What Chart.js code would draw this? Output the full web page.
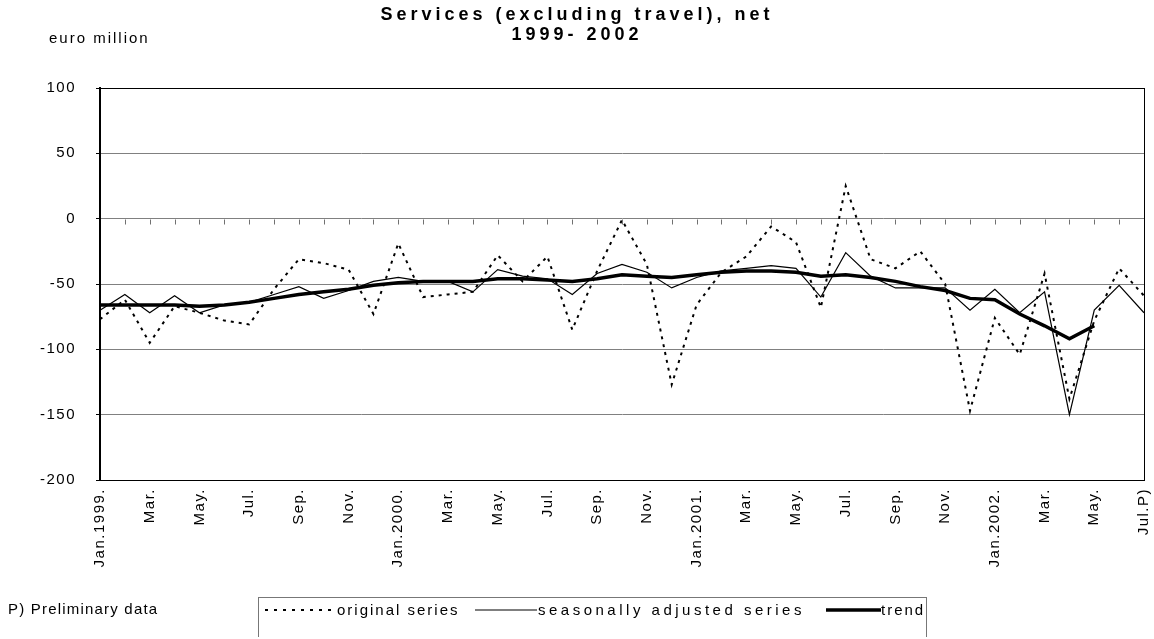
<!DOCTYPE html>
<html>
<head>
<meta charset="utf-8">
<title>Services (excluding travel), net</title>
<script src="https://cdn.jsdelivr.net/npm/chart.js@4.4.1/dist/chart.umd.min.js"></script>
<style>
    body { margin: 0; background: #fff; font-family: 'Liberation Sans', Arial, sans-serif; }
    #wrap { position: relative; width: 1154px; height: 639px; }
    #myLineChart { position: absolute; left: 0; top: 0; }
    .title { position: absolute; left: 0; width: 1154px; text-align: center; font-weight: bold; font-size: 18px; letter-spacing: 4px; color: #000; }
    .unit { position: absolute; left: 49px; top: 29px; font-size: 15px; letter-spacing: 2px; color: #000; }
    .note { position: absolute; left: 8px; top: 600px; font-size: 15px; letter-spacing: 1.2px; color: #000; }
    .legend { position: absolute; left: 258px; top: 597px; width: 669px; height: 40px; box-sizing: border-box; border: 1px solid #777; border-bottom: none; font-size: 15px; letter-spacing: 2px; white-space: nowrap; }
    .legend span, .legend svg { position: absolute; top: 3px; }
</style>
</head>
<body>
<div id="wrap">
    <canvas id="myLineChart" width="1154" height="639"></canvas>
    <div class="title" style="top:4px">Services (excluding travel), net</div>
    <div class="title" style="top:24px">1999- 2002</div>
    <div class="unit">euro million</div>
    <div class="note">P) Preliminary data</div>
    <div class="legend">
        <svg style="left:6px;top:9px" width="68" height="6"><line x1="0" y1="3" x2="68" y2="3" stroke="#000" stroke-width="2" stroke-dasharray="3,6"/></svg>
        <span style="left:78px">original series</span>
        <svg style="left:216px;top:9px" width="62" height="6"><line x1="0" y1="3" x2="62" y2="3" stroke="#000" stroke-width="1.2"/></svg>
        <span style="left:279px;letter-spacing:3.5px">seasonally adjusted series</span>
        <svg style="left:567px;top:9px" width="55" height="6"><line x1="0" y1="3" x2="55" y2="3" stroke="#000" stroke-width="3.5"/></svg>
        <span style="left:622px">trend</span>
    </div>
</div>

<script>
// Jan 1999 .. Jul 2002 (P = preliminary)
const Months = ['Jan.1999.', 'Feb.', 'Mar.', 'Apr.', 'May.', 'Jun.', 'Jul.', 'Aug.', 'Sep.', 'Oct.', 'Nov.', 'Dec.',
    'Jan.2000.', 'Feb.', 'Mar.', 'Apr.', 'May.', 'Jun.', 'Jul.', 'Aug.', 'Sep.', 'Oct.', 'Nov.', 'Dec.',
    'Jan.2001.', 'Feb.', 'Mar.', 'Apr.', 'May.', 'Jun.', 'Jul.', 'Aug.', 'Sep.', 'Oct.', 'Nov.', 'Dec.',
    'Jan.2002.', 'Feb.', 'Mar.', 'Apr.', 'May.', 'Jun.', 'Jul.P)'];

const Original_Series = [-77, -62, -95, -67, -72, -78, -81, -54, -31, -34, -39, -73,
    -19, -60, -58, -56, -28, -48, -29, -85, -40, -1, -35, -127,
    -66, -41, -29, -6, -18, -68, 25, -31, -38, -25, -50, -147,
    -76, -104, -42, -138, -78, -38, -59];

const Seasonally_Adjusted = [-70, -58, -72, -59, -72, -66, -64, -58, -52, -61, -55, -48,
    -45, -48, -48, -56, -39, -44, -46, -58, -42, -35, -41, -53,
    -45, -40, -38, -36, -38, -60, -26, -44, -53, -53, -53, -70,
    -54, -72, -56, -150, -70, -51, -72];

// trend stops at May 2002
const Trend = [-66, -66, -66, -66, -67, -66, -64, -61, -58, -56, -54, -51,
    -49, -48, -48, -48, -46, -46, -47, -48, -46, -43, -44, -45,
    -43, -41, -40, -40, -41, -44, -43, -45, -48, -52, -55, -61,
    -62, -73, -82, -92, -82, null, null];

const Y_Ticks = [-200, -150, -100, -50, 0, 50, 100];

// marco del area del grafico y eje en cero con sus marcas
const framePlugin = {
    id: 'framePlugin',
    beforeDraw(chart) {
        // texto de los ejes un poco espaciado, como en el original
        chart.ctx.letterSpacing = '1.5px';
    },
    beforeDatasetsDraw(chart) {
        chart.ctx.letterSpacing = '0px';
    },
    afterDatasetsDraw(chart) {
        const { ctx, chartArea, scales } = chart;
        const y0 = Math.round(scales.y.getPixelForValue(0)) + 0.5;
        ctx.save();
        ctx.strokeStyle = '#707070';
        ctx.lineWidth = 1;
        ctx.beginPath();
        for (let i = 1; i < Months.length; i++) {
            const x = Math.round(scales.x.getPixelForValue(i)) + 0.5;
            ctx.moveTo(x, y0);
            ctx.lineTo(x, y0 + 5);
        }
        ctx.stroke();
        ctx.strokeStyle = '#000';
        ctx.strokeRect(Math.round(chartArea.left) + 0.5, Math.round(chartArea.top) + 0.5,
            Math.round(chartArea.width), Math.round(chartArea.height));
        ctx.lineWidth = 2;
        ctx.beginPath();
        ctx.moveTo(Math.round(chartArea.left), chartArea.top);
        ctx.lineTo(Math.round(chartArea.left), chartArea.bottom + 1);
        ctx.stroke();
        ctx.restore();
    }
};

function createLineChart() {
    const ctx = document.getElementById('myLineChart').getContext('2d');

    new Chart(ctx, {
        type: 'line',
        data: {
            labels: Months,
            datasets: [{
                label: 'original series',
                data: Original_Series,
                borderColor: '#000',
                borderWidth: 2,
                borderDash: [3, 5],
                pointRadius: 0,
                tension: 0
            }, {
                label: 'seasonally adjusted series',
                data: Seasonally_Adjusted,
                borderColor: '#000',
                borderWidth: 1.2,
                pointRadius: 0,
                tension: 0
            }, {
                label: 'trend',
                data: Trend,
                borderColor: '#000',
                borderWidth: 3.5,
                pointRadius: 0,
                tension: 0,
                spanGaps: false
            }]
        },
        options: {
            responsive: false,
            animation: false,
            layout: {
                padding: { top: 88, right: 10, bottom: 59, left: 0 }
            },
            scales: {
                x: {
                    type: 'category',
                    offset: false,
                    grid: { display: false },
                    border: { display: true, color: '#000', width: 1 },
                    ticks: {
                        autoSkip: false,
                        maxRotation: 90,
                        minRotation: 90,
                        padding: 0,
                        color: '#000',
                        font: { family: 'Liberation Sans', size: 15 },
                        callback: function (value, index) {
                            return index % 2 === 0 ? Months[index] : '';
                        }
                    },
                    afterFit: function (scale) {
                        scale.height = 100;
                        scale.paddingLeft = 0;
                        scale.paddingRight = 0;
                    }
                },
                y: {
                    min: -200,
                    max: 100,
                    afterBuildTicks: function (scale) {
                        scale.ticks = Y_Ticks.map(v => ({ value: v }));
                    },
                    grid: {
                        color: function (c) {
                            return (c.tick.value === 100 || c.tick.value === -200) ? 'rgba(0,0,0,0)' : '#808080';
                        },
                        lineWidth: 1,
                        drawTicks: true,
                        tickLength: 4,
                        tickColor: '#000'
                    },
                    border: { display: true, color: '#000', width: 2 },
                    ticks: {
                        color: '#000',
                        padding: 20,
                        font: { family: 'Liberation Sans', size: 15 }
                    },
                    afterFit: function (scale) { scale.width = 100; }
                }
            },
            plugins: {
                legend: { display: false },
                title: { display: false },
                tooltip: { enabled: false }
            }
        },
        plugins: [framePlugin]
    });
}

document.addEventListener('DOMContentLoaded', createLineChart);
</script>
</body>
</html>
